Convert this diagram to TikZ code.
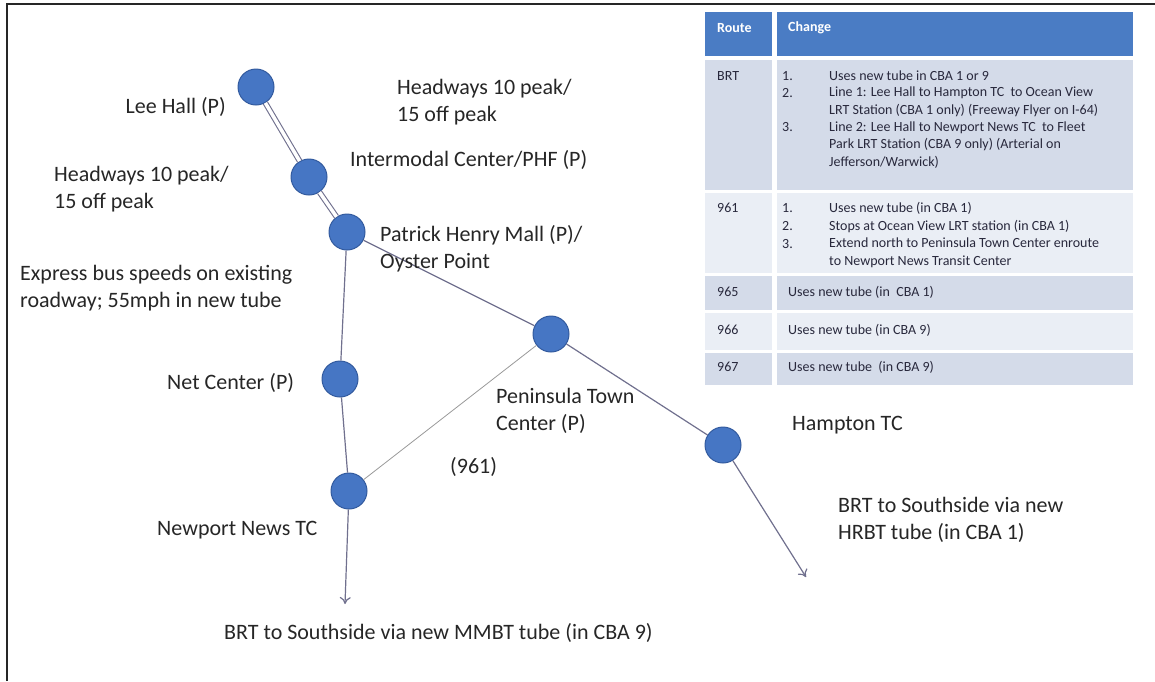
\documentclass[tikz,border=0pt]{standalone}
\usepackage{fontspec}
\setmainfont{Carlito}
\usetikzlibrary{positioning}
\usetikzlibrary{arrows.meta}

\definecolor{stopblue}{RGB}{70,118,196}
\definecolor{stopedge}{RGB}{50,90,158}
\definecolor{linkgray}{RGB}{112,112,142}
\definecolor{headblue}{RGB}{74,124,196}
\definecolor{banddark}{RGB}{212,219,233}
\definecolor{bandlight}{RGB}{234,238,245}
\definecolor{labeltext}{RGB}{38,38,38}
\definecolor{celltext}{RGB}{40,40,60}

\begin{document}
\begin{tikzpicture}[x=1pt,y=-1pt,
  stop/.style={circle,fill=stopblue,draw=stopedge,line width=1pt,minimum size=36pt,inner sep=0pt},
  link/.style={draw=linkgray,line width=1.2pt},
  tube/.style={draw=linkgray,line width=1.1pt,double=white,double distance=3.5pt},
  lbl/.style={font=\fontsize{22}{27}\selectfont,text=labeltext,align=left,inner sep=0pt,anchor=west},
  cell/.style={font=\fontsize{14}{17.5}\selectfont,text=celltext,align=left,inner sep=0pt,anchor=west},
  headcell/.style={cell,text=white,font=\fontsize{14}{17.5}\selectfont\bfseries}]
  \useasboundingbox (0,0) rectangle (1155,681);
  \draw[line width=1.6pt,black!85] (7,681) -- (7,4) -- (1155,4);

  % stops
  \node[stop] (lee) at (256,87) {};
  \node[stop] (phf) at (309,177) {};
  \node[stop] (patrick) at (347,232) {};
  \node[stop] (net) at (340,379) {};
  \node[stop] (nn) at (349,491) {};
  \node[stop] (ptc) at (551,334) {};
  \node[stop] (hampton) at (723,445) {};
  \coordinate (mmbt) at (345,604);
  \coordinate (hrbt) at (806,577);

  % links
  \draw[tube] (lee) -- (phf);
  \draw[tube] (phf) -- (patrick);
  \draw[link] (patrick) -- (ptc);
  \draw[link] (ptc) -- (hampton);
  \draw[link] (patrick) -- (net);
  \draw[link] (net) -- (nn);
  \draw[link,line width=0.8pt,draw=gray!80] (nn) -- (ptc);
  \draw[link,-{To[length=7pt,width=11pt]}] (nn) -- (mmbt);
  \draw[link,-{To[length=7pt,width=11pt]}] (hampton) -- (hrbt);

  % labels
  \node[lbl,anchor=east] (leelbl) at (226,107) {Lee Hall (P)};
  \node[lbl] (headwaysa) at (397,102) {Headways 10 peak/\\15 off peak};
  \node[lbl] (phflbl) at (350,160) {Intermodal Center/PHF (P)};
  \node[lbl] (headwaysb) at (54,189) {Headways 10 peak/\\15 off peak};
  \node[lbl] (patricklbl) at (380,249) {Patrick Henry Mall (P)/\\Oyster Point};
  \node[lbl] (express) at (20,288) {Express bus speeds on existing\\roadway; 55mph in new tube};
  \node[lbl] (netlbl) at (167,383) {Net Center (P)};
  \node[lbl] (ptclbl) at (496,411) {Peninsula Town\\Center (P)};
  \node[lbl] (route961) at (450,467) {(961)};
  \node[lbl] (hamptonlbl) at (792,425) {Hampton TC};
  \node[lbl] (hrbtlbl) at (838,520) {BRT to Southside via new\\HRBT tube (in CBA 1)};
  \node[lbl] (nnlbl) at (157,530) {Newport News TC};
  \node[lbl] (mmbtlbl) at (224,633) {BRT to Southside via new MMBT tube (in CBA 9)};

  % route table
  \fill[headblue] (705,12) rectangle (772,56);
  \fill[headblue] (777,12) rectangle (1133,56);
  \fill[banddark] (705,60) rectangle (772,190);
  \fill[banddark] (777,60) rectangle (1133,190);
  \fill[bandlight] (705,193) rectangle (772,273);
  \fill[bandlight] (777,193) rectangle (1133,273);
  \fill[banddark] (705,276) rectangle (772,310);
  \fill[banddark] (777,276) rectangle (1133,310);
  \fill[bandlight] (705,313) rectangle (772,350);
  \fill[bandlight] (777,313) rectangle (1133,350);
  \fill[banddark] (705,353) rectangle (772,385);
  \fill[banddark] (777,353) rectangle (1133,385);

  \node[headcell] (routehd) at (717,28) {Route};
  \node[headcell] (changehd) at (788,28) {Change};

  \node[cell] (brt) at (717,76) {BRT};
  \node[cell] (brtn1) at (782,76) {1.};
  \node[cell] (brtt1) at (829,76) {Uses new tube in CBA 1 or 9};
  \node[cell] (brtn2) at (782,93) {2.};
  \node[cell] (brtt2) at (829,102) {Line 1: Lee Hall to Hampton TC\ \ to Ocean View\\LRT Station (CBA 1 only) (Freeway Flyer on I-64)};
  \node[cell] (brtn3) at (782,127) {3.};
  \node[cell] (brtt3) at (829,145) {Line 2: Lee Hall to Newport News TC\ \ to Fleet\\Park LRT Station (CBA 9 only) (Arterial on\\Jefferson/Warwick)};

  \node[cell] (r961) at (717,208) {961};
  \node[cell] (n961a) at (782,208) {1.};
  \node[cell] (t961a) at (829,208) {Uses new tube (in CBA 1)};
  \node[cell] (n961b) at (782,226) {2.};
  \node[cell] (t961b) at (829,226) {Stops at Ocean View LRT station (in CBA 1)};
  \node[cell] (n961c) at (782,244) {3.};
  \node[cell] (t961c) at (829,253) {Extend north to Peninsula Town Center enroute\\to Newport News Transit Center};

  \node[cell] (r965) at (717,292) {965};
  \node[cell] (t965) at (788,292) {Uses new tube (in\ \ CBA 1)};
  \node[cell] (r966) at (717,330) {966};
  \node[cell] (t966) at (788,330) {Uses new tube (in CBA 9)};
  \node[cell] (r967) at (717,367) {967};
  \node[cell] (t967) at (788,367) {Uses new tube\ \ (in CBA 9)};
\end{tikzpicture}
\end{document}
